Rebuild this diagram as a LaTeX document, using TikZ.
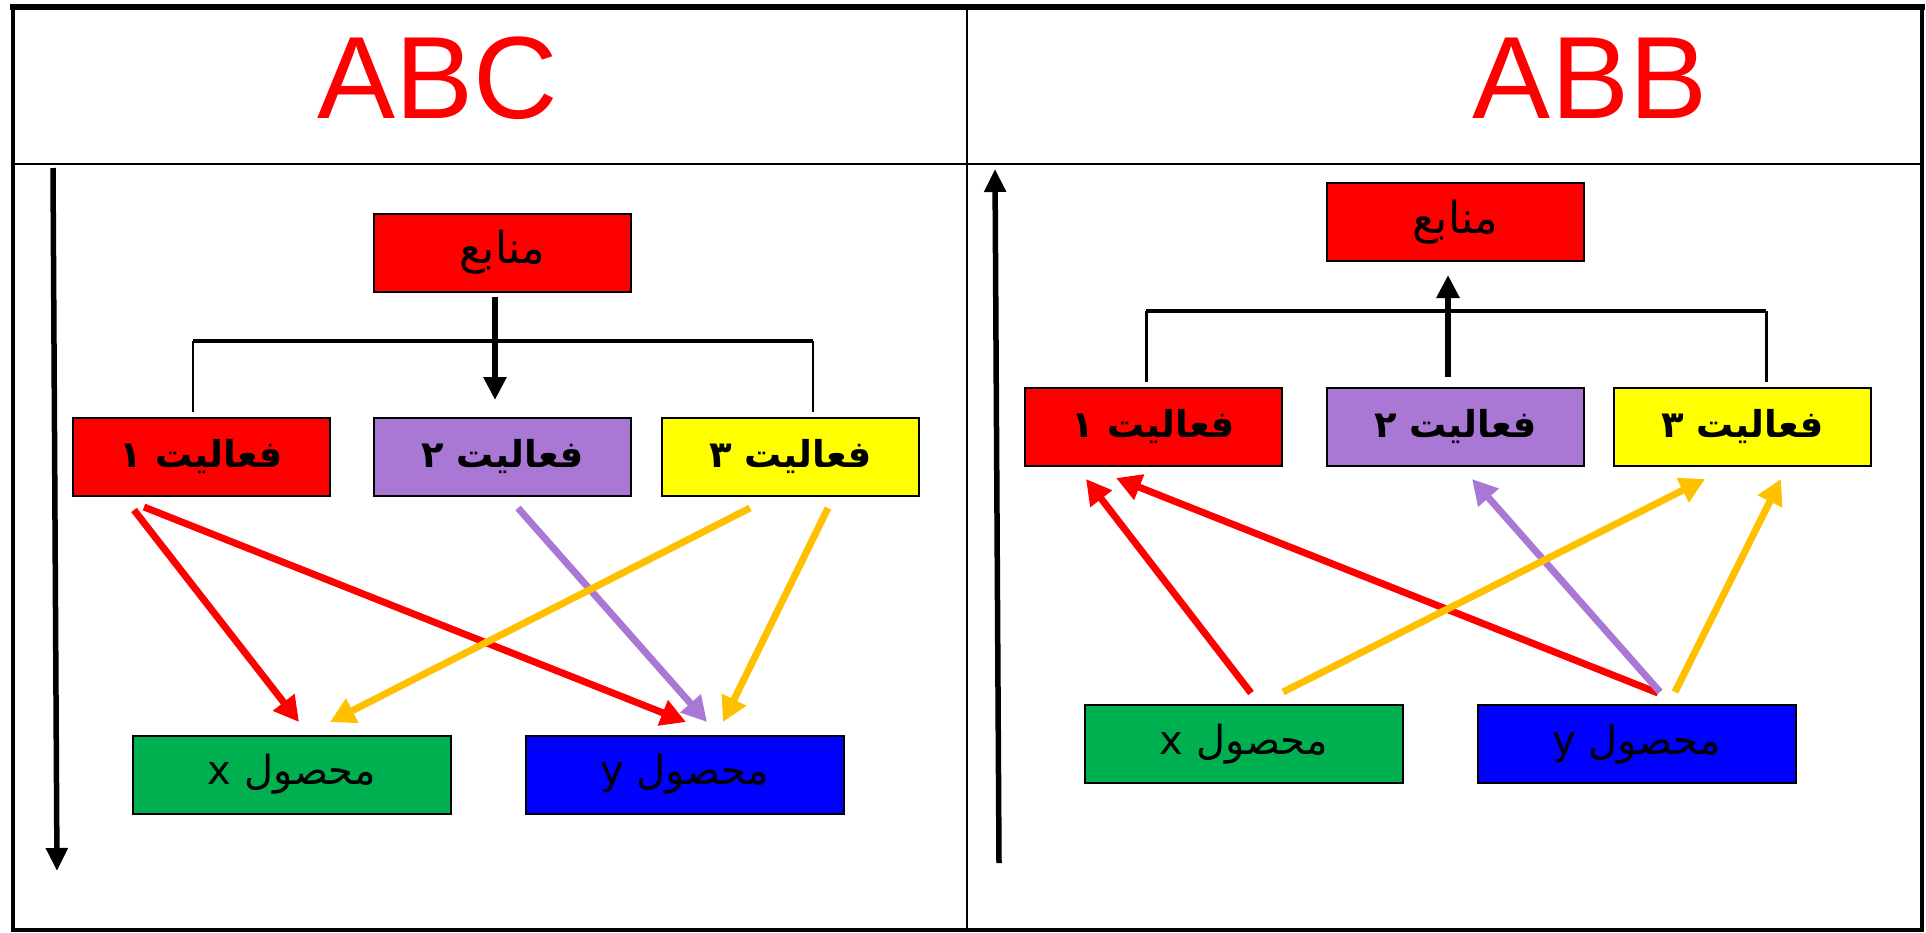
\documentclass[tikz,border=0pt]{standalone}
\usepackage{fontspec}
\setmainfont{Liberation Sans}
\newfontfamily\arabicfont[Script=Arabic]{DejaVu Sans}
\TeXXeTstate=1
\usetikzlibrary{arrows.meta}

\definecolor{boxred}{HTML}{FF0000}
\definecolor{boxpurple}{HTML}{A977D4}
\definecolor{boxyellow}{HTML}{FFFF00}
\definecolor{boxgreen}{HTML}{00B050}
\definecolor{boxblue}{HTML}{0000FF}
\definecolor{arrgold}{HTML}{FFC000}

\tikzset{
  box/.style={draw=black, line width=2pt, inner sep=0pt,
    minimum width=257pt, minimum height=78pt},
  prodbox/.style={box, minimum width=318pt},
  srclabel/.style={font=\arabicfont\fontsize{44}{48}\selectfont},
  actlabel/.style={font=\arabicfont\bfseries\fontsize{37}{40}\selectfont},
  prodlabel/.style={font=\arabicfont\fontsize{40}{44}\selectfont},
  flow/.style={line width=7pt, -{Triangle[length=25pt,width=26pt]}},
  bigflow/.style={line width=6.5pt, black, -{Triangle[length=23pt,width=22pt]}},
  timeline/.style={line width=5.5pt, black, -{Triangle[length=23pt,width=21pt]}},
  title/.style={text=red, font=\fontsize{117}{120}\selectfont, anchor=base}
}

\begin{document}
\begin{tikzpicture}[x=1pt, y=-1pt]
\useasboundingbox (0,0) rectangle (1926,932);

% table frame, header row and column divider
\draw[line width=4.5pt] (13,8) rectangle (1922,930);
\draw[line width=6pt] (10,7) -- (1925,7);
\draw[line width=2pt] (13,164) -- (1922,164);
\draw[line width=2.5pt] (967,8) -- (967,930);

% column titles
\node[title] (tabc) at (438,118) {ABC};
\node[title] (tabb) at (1590,118) {ABB};

% ---------------- left column ----------------
\node[box, fill=boxred, srclabel] (srcL) at (502.5,252.5) {\beginR منابع\endR};
\node[box, fill=boxred, actlabel] (a1L) at (201,457) {\beginR فعالیت ۱\endR};
\node[box, fill=boxpurple, actlabel] (a2L) at (502.5,457) {\beginR فعالیت ۲\endR};
\node[box, fill=boxyellow, actlabel] (a3L) at (790.5,457) {\beginR فعالیت ۳\endR};
\node[prodbox, fill=boxgreen, prodlabel] (pxL) at (292,774.5) {\beginR محصول x\endR};
\node[prodbox, fill=boxblue, prodlabel] (pyL) at (684.5,774.5) {\beginR محصول y\endR};

% bracket from the resources down to the activities
\coordinate (bl1) at (193,341);
\coordinate (bl2) at (813,341);
\coordinate (bl1d) at (193,412);
\coordinate (bl2d) at (813,412);
\draw[line width=3.5pt] (bl1) -- (bl2);
\draw[line width=1.5pt] (bl1) -- (bl1d);
\draw[line width=1.5pt] (bl2) -- (bl2d);
\coordinate (dnL1) at (495,297);
\coordinate (dnL2) at (495,400);
\draw[bigflow] (dnL1) -- (dnL2);

% activities to products
\coordinate (l1s) at (134,510);  \coordinate (l1e) at (299,722);
\coordinate (l2s) at (144,507);  \coordinate (l2e) at (686,722);
\coordinate (l3s) at (518,508);  \coordinate (l3e) at (707,722);
\coordinate (l4s) at (750,508);  \coordinate (l4e) at (330,722);
\coordinate (l5s) at (828,508);  \coordinate (l5e) at (723,722);
\draw[flow, boxred] (l1s) -- (l1e);
\draw[flow, boxred] (l2s) -- (l2e);
\draw[flow, boxpurple] (l3s) -- (l3e);
\draw[flow, arrgold] (l4s) -- (l4e);
\draw[flow, arrgold] (l5s) -- (l5e);

% downward direction
\coordinate (tL1) at (53,168);
\coordinate (tL2) at (57,871);
\draw[timeline] (tL1) -- (tL2);

% ---------------- right column ----------------
\node[box, fill=boxred, srclabel] (srcR) at (1455.5,222) {\beginR منابع\endR};
\node[box, fill=boxred, actlabel] (a1R) at (1153,427) {\beginR فعالیت ۱\endR};
\node[box, fill=boxpurple, actlabel] (a2R) at (1455.5,427) {\beginR فعالیت ۲\endR};
\node[box, fill=boxyellow, actlabel] (a3R) at (1742.5,427) {\beginR فعالیت ۳\endR};
\node[prodbox, fill=boxgreen, prodlabel] (pxR) at (1244,744) {\beginR محصول x\endR};
\node[prodbox, fill=boxblue, prodlabel] (pyR) at (1636.5,744) {\beginR محصول y\endR};

% bracket from the activities up to the resources
\coordinate (br1) at (1146,311);
\coordinate (br2) at (1766,311);
\coordinate (br1d) at (1146,382);
\coordinate (br2d) at (1766,382);
\draw[line width=4pt] (br1) -- (br2);
\draw[line width=3pt] (br1) -- (br1d);
\draw[line width=3pt] (br2) -- (br2d);
\coordinate (upR1) at (1448,377);
\coordinate (upR2) at (1448,275);
\draw[bigflow] (upR1) -- (upR2);

% products back to activities
\coordinate (r1s) at (1251,693); \coordinate (r1e) at (1086,479);
\coordinate (r2s) at (1658,693); \coordinate (r2e) at (1116,478);
\coordinate (r3s) at (1660,692); \coordinate (r3e) at (1472,479);
\coordinate (r4s) at (1283,692); \coordinate (r4e) at (1705,479);
\coordinate (r5s) at (1675,692); \coordinate (r5e) at (1781,479);
\draw[flow, boxred] (r1s) -- (r1e);
\draw[flow, boxred] (r2s) -- (r2e);
\draw[flow, boxpurple] (r3s) -- (r3e);
\draw[flow, arrgold] (r4s) -- (r4e);
\draw[flow, arrgold] (r5s) -- (r5e);

% upward direction
\coordinate (tR1) at (999,863);
\coordinate (tR2) at (995,169);
\draw[timeline] (tR1) -- (tR2);
\end{tikzpicture}
\end{document}
